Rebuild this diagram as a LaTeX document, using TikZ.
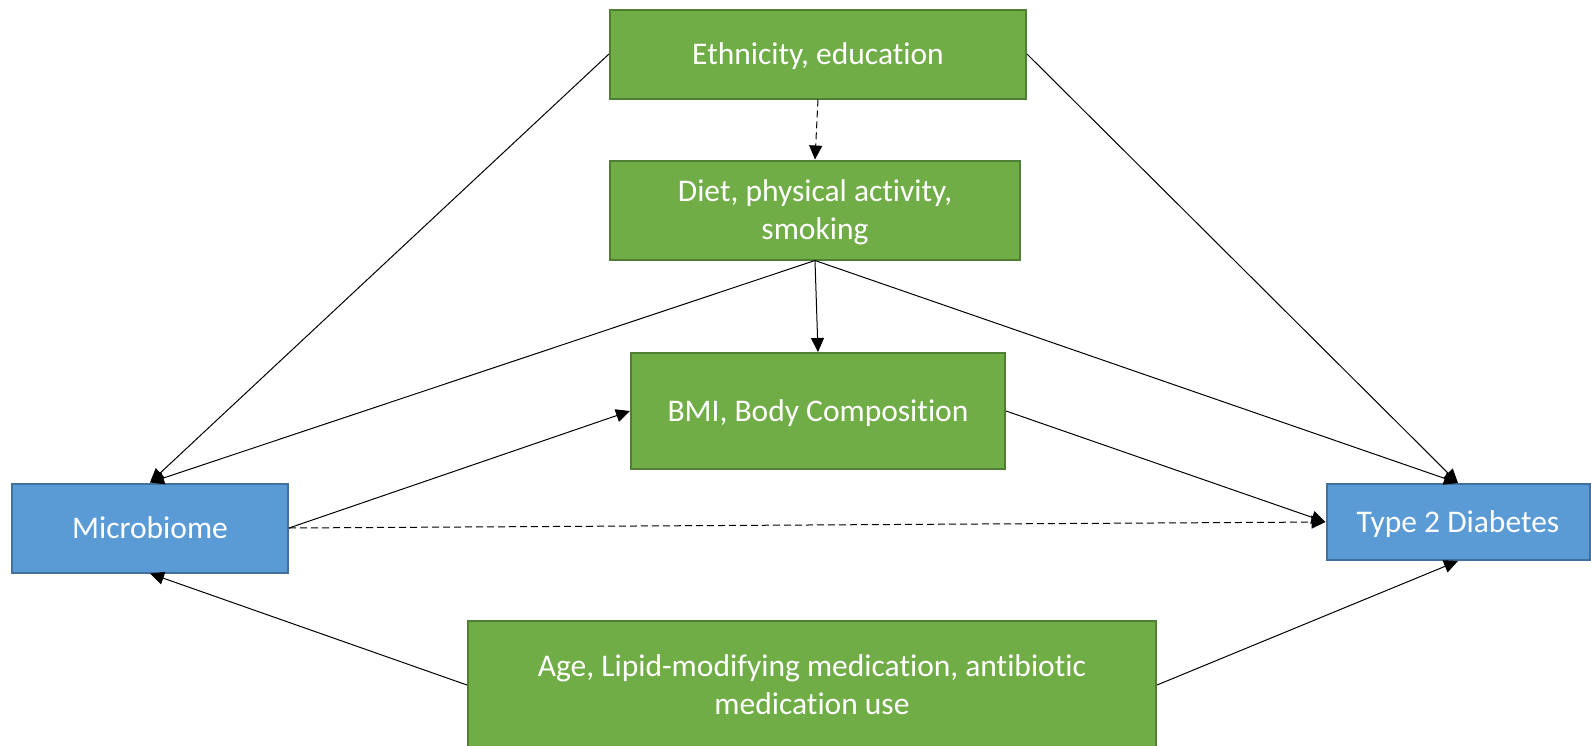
\documentclass[tikz,border=0pt]{standalone}
\usepackage{fontspec}
\setmainfont{Carlito}[Ligatures=NoCommon]
\usetikzlibrary{arrows.meta,calc}

\definecolor{boxgreen}{HTML}{70AD47}
\definecolor{greenline}{HTML}{507E32}
\definecolor{boxblue}{HTML}{5B9BD5}
\definecolor{blueline}{HTML}{41719C}

\tikzset{
  greenbox/.style={draw=greenline, fill=boxgreen, line width=2pt, inner sep=0pt,
    text=white, align=center, text depth=0pt, font=\fontsize{31.5}{38}\selectfont},
  bluebox/.style={draw=blueline, fill=boxblue, line width=2pt, inner sep=0pt,
    text=white, align=center, text depth=0pt, font=\fontsize{31.5}{38}\selectfont},
  link/.style={line width=1pt, -{Triangle[length=14pt,width=13pt]}},
  weak/.style={link, dash pattern=on 7pt off 4pt}
}

\begin{document}
\begin{tikzpicture}[x=1pt,y=-1pt]

\clip (0,0) rectangle (1591,745);
\useasboundingbox (0,0) rectangle (1591,745);

\node [greenbox, minimum width=416pt, minimum height=89pt] (ethn) at (818,54) {Ethnicity, education};
\node [greenbox, minimum width=410pt, minimum height=99pt] (diet) at (815,210) {Diet, physical activity,\\ smoking};
\node [greenbox, minimum width=374pt, minimum height=116pt] (bmi) at (818,411) {BMI, Body Composition};
\node [bluebox, minimum width=276pt, minimum height=89pt] (micro) at (150,528) {Microbiome};
\node [bluebox, minimum width=263pt, minimum height=76pt] (tdiab) at (1458,522) {Type 2 Diabetes};
\node [greenbox, minimum width=688pt, minimum height=128pt] (age) at (812,685) {Age, Lipid-modifying medication, antibiotic\\ medication use};

% confounders of exposure and outcome
\draw [link] (ethn.west) -- (micro.north);
\draw [link] (ethn.east) -- (tdiab.north);
\draw [weak] (ethn.south) -- (diet.north);

\draw [link] (diet.south) -- (micro.north);
\draw [link] (diet.south) -- (bmi.north);
\draw [link] (diet.south) -- (tdiab.north);

% mediation path
\draw [link] (micro.east) -- (bmi.west);
\draw [link] (bmi.east) -- (tdiab.west);
\draw [weak] (micro.east) -- (tdiab.west);

\draw [link] (age.west) -- (micro.south);
\draw [link] (age.east) -- (tdiab.south);

\end{tikzpicture}
\end{document}
